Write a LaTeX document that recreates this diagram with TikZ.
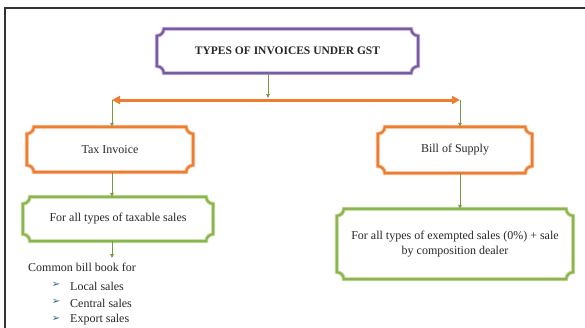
\documentclass[tikz,border=0pt]{standalone}
\usepackage{fontspec}
\setmainfont{Liberation Serif}
\newfontfamily\symfont{DejaVu Sans}
\usetikzlibrary{calc,arrows.meta}
\definecolor{purp}{RGB}{120,92,160}
\definecolor{purpl}{RGB}{205,190,225}
\definecolor{oran}{RGB}{237,125,49}
\definecolor{oranl}{RGB}{250,196,160}
\definecolor{gree}{RGB}{140,180,80}
\definecolor{greel}{RGB}{205,225,170}
\definecolor{txt}{RGB}{40,40,40}
\definecolor{bul}{RGB}{50,95,125}
\newcommand\plaqdraw[3]{%
\draw[#2] ($(#1.north west)+(0,-#3)$) arc[start angle=270,end angle=360,radius=#3pt]
 -- ($(#1.north east)+(-#3,0)$) arc[start angle=180,end angle=270,radius=#3pt]
 -- ($(#1.south east)+(0,#3)$) arc[start angle=90,end angle=180,radius=#3pt]
 -- ($(#1.south west)+(#3,0)$) arc[start angle=0,end angle=90,radius=#3pt] -- cycle;}
\tikzset{
  boxtext/.style={draw=none,inner sep=0pt,align=center,text=txt,font=\fontsize{12}{15}\selectfont},
  garrow/.style={draw=gree!85!black,line width=0.9pt,-{Triangle[length=4pt,width=3.5pt]}},
  listtext/.style={anchor=west,inner sep=0pt,text=txt,font=\fontsize{12}{14}\selectfont},
  bullet/.style={inner sep=0pt,text=bul,font=\symfont\fontsize{10}{11}\selectfont}
}
\begin{document}
\begin{tikzpicture}[x=1pt,y=1pt]
\useasboundingbox (0,0) rectangle (585,-327);
\fill[white] (0,0) rectangle (585,-327);
% frame
\draw[line width=1.3pt,black!80] (5,-340) -- (5,-8) -- (590,-8);
% nodes
\node[boxtext,minimum width=261pt,minimum height=44pt,font=\bfseries\fontsize{11.5}{13}\selectfont] (top) at (287.5,-51) {TYPES OF INVOICES UNDER GST};
\node[boxtext,minimum width=166pt,minimum height=45pt] (tax) at (110,-149.5) {Tax Invoice};
\node[boxtext,minimum width=190pt,minimum height=44pt] (taxable) at (118,-219) {For all types of taxable sales};
\node[boxtext,minimum width=154pt,minimum height=46pt] (bill) at (455,-150) {Bill of Supply};
\node[boxtext,minimum width=236pt,minimum height=70pt] (exempt) at (455,-244) {For all types of exempted sales (0\%) + sale\\by composition dealer};
% plaque borders
\plaqdraw{top}{purpl,line width=4pt}{7}
\plaqdraw{top}{purp,line width=2.2pt}{7}
\plaqdraw{tax}{oranl,line width=4pt}{7}
\plaqdraw{tax}{oran,line width=2.2pt}{7}
\plaqdraw{bill}{oranl,line width=4pt}{7}
\plaqdraw{bill}{oran,line width=2.2pt}{7}
\plaqdraw{taxable}{greel,line width=4pt}{7}
\plaqdraw{taxable}{gree,line width=2.2pt}{7}
\plaqdraw{exempt}{greel,line width=4pt}{7}
\plaqdraw{exempt}{gree,line width=2.2pt}{7}
% connector coordinates
\coordinate (hl) at (112,-100);
\coordinate (hr) at (460,-100);
\coordinate (hm) at (268,-98);
\coordinate (lend) at (112,-258);
% connectors
\draw[garrow] (top.south -| hm) -- (hm);
\draw[draw=oran,line width=3pt,{Triangle[length=8pt,width=8pt]}-{Triangle[length=8pt,width=8pt]}] (hl) -- (hr);
\draw[garrow] (hl) -- (hl |- tax.north);
\draw[garrow] (hr) -- (hr |- bill.north);
\draw[garrow] (tax.south -| hl) -- (hl |- taxable.north);
\draw[garrow] (bill.south -| hr) -- (hr |- exempt.north);
\draw[garrow] (taxable.south -| hl) -- (lend);
% list
\node[listtext] (cb) at (28,-267) {Common bill book for};
\node[bullet] (b1) at (56,-285) {➢};
\node[listtext] (l1) at (70,-286) {Local sales};
\node[bullet] (b2) at (56,-302) {➢};
\node[listtext] (l2) at (70,-303) {Central sales};
\node[bullet] (b3) at (56,-319) {➢};
\node[listtext] (l3) at (70,-320) {Export sales};
\end{tikzpicture}
\end{document}
